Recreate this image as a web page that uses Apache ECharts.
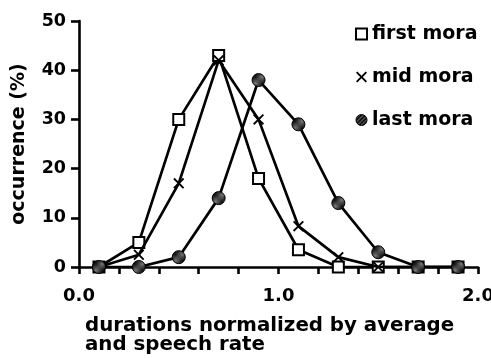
<!DOCTYPE html>
<html>
<head>
<meta charset="utf-8">
<script src="https://cdn.jsdelivr.net/npm/echarts@6/dist/echarts.min.js"></script>
<style>html,body{margin:0;padding:0;background:#fff}#c{width:491px;height:358px}</style>
</head>
<body>
<div id="c"></div>
<script>
const xValues = [0.1, 0.3, 0.5, 0.7, 0.9, 1.1, 1.3, 1.5, 1.7, 1.9];
const firstMora = [0, 5, 30, 43, 18, 3.5, 0, 0, 0, 0];
const midMora = [0, 2.5, 17, 42, 30, 8.3, 2, 0, 0, 0];
const lastMora = [0, 0, 2, 14, 38, 29, 13, 3, 0, 0];
const seriesNames = ['first mora', 'mid mora', 'last mora'];
const xTickLabels = ['0.0', '1.0', '2.0'];
const yTickLabels = ['0', '10', '20', '30', '40', '50'];

function pairs(ys) { return xValues.map((x, i) => [x, ys[i]]); }

// hatch pattern
const pc = document.createElement('canvas');
pc.width = 4; pc.height = 4;
const g = pc.getContext('2d');
g.fillStyle = '#151515'; g.fillRect(0, 0, 4, 4);
g.strokeStyle = '#7a7a7a'; g.lineWidth = 1;
g.beginPath(); g.moveTo(0, 4); g.lineTo(4, 0); g.stroke();
const hatch = { image: pc, repeat: 'repeat' };

const xPath = 'path://M0,1.2L1.2,0L5,3.8L8.8,0L10,1.2L6.2,5L10,8.8L8.8,10L5,6.2L1.2,10L0,8.8L3.8,5Z';
const font = '"DejaVu Sans", sans-serif';

const chart = echarts.init(document.getElementById('c'), null, { renderer: 'canvas' });
chart.setOption({
  animation: false,
  backgroundColor: '#fff',
  title: {
    text: 'durations normalized by average\nand speech rate',
    left: 80, top: 311,
    textStyle: { fontFamily: font, fontWeight: 'bold', fontSize: 19.8, lineHeight: 19, color: '#000' }
  },
  grid: { left: 79, right: 13, top: 21, bottom: 91, containLabel: false, outerBoundsMode: 'none' },
  legend: {
    orient: 'vertical', left: 350, top: 19, itemGap: 23, itemWidth: 11, itemHeight: 11,
    textStyle: { fontFamily: font, fontWeight: 'bold', fontSize: 19, lineHeight: 20, color: '#000' },
    data: [
      { name: seriesNames[0], icon: 'rect', itemStyle: { color: '#fff', borderColor: '#000', borderWidth: 2 } },
      { name: seriesNames[1], icon: xPath, itemStyle: { color: '#000', borderWidth: 0 } },
      { name: seriesNames[2], icon: 'circle', itemStyle: { color: hatch, borderColor: '#000', borderWidth: 1 } }
    ]
  },
  xAxis: {
    type: 'value', min: 0, max: 2, interval: 0.2,
    axisLine: { show: true, onZero: false, lineStyle: { color: '#000', width: 2.6 } },
    axisTick: { show: true, inside: false, length: 7, lineStyle: { color: '#000', width: 2.6 } },
    splitLine: { show: false },
    axisLabel: {
      fontFamily: font, fontWeight: 'bold', fontSize: 18, color: '#000', margin: 20,
      formatter: v => { const i = Math.round(v); return Math.abs(v - i) < 1e-6 ? xTickLabels[i] : ''; }
    }
  },
  yAxis: {
    type: 'value', min: 0, max: 50, interval: 10,
    name: 'occurrence (%)', nameLocation: 'middle', nameGap: 50, nameRotate: 90,
    nameTextStyle: { fontFamily: font, fontWeight: 'bold', fontSize: 19, color: '#000' },
    axisLine: { show: true, onZero: false, lineStyle: { color: '#000', width: 2.6 } },
    axisTick: { show: true, inside: false, length: 8, lineStyle: { color: '#000', width: 2.6 } },
    splitLine: { show: false },
    axisLabel: {
      fontFamily: font, fontWeight: 'bold', fontSize: 17.5, color: '#000', margin: 13,
      formatter: v => yTickLabels[Math.round(v / 10)]
    }
  },
  series: [
    {
      name: seriesNames[0], type: 'line', data: pairs(firstMora), z: 3,
      symbol: 'rect', symbolSize: 11, showAllSymbol: true,
      lineStyle: { color: '#000', width: 2.7 },
      itemStyle: { color: '#fff', borderColor: '#000', borderWidth: 2 }
    },
    {
      name: seriesNames[1], type: 'line', data: pairs(midMora), z: 4,
      symbol: xPath, symbolSize: 11, showAllSymbol: true,
      lineStyle: { color: '#000', width: 2.7 },
      itemStyle: { color: '#000', borderWidth: 0 }
    },
    {
      name: seriesNames[2], type: 'line', data: pairs(lastMora), z: 5,
      symbol: 'circle', symbolSize: 13, showAllSymbol: true,
      lineStyle: { color: '#000', width: 2.7 },
      itemStyle: { color: hatch, borderColor: '#000', borderWidth: 1 }
    }
  ]
});
</script>
</body>
</html>
